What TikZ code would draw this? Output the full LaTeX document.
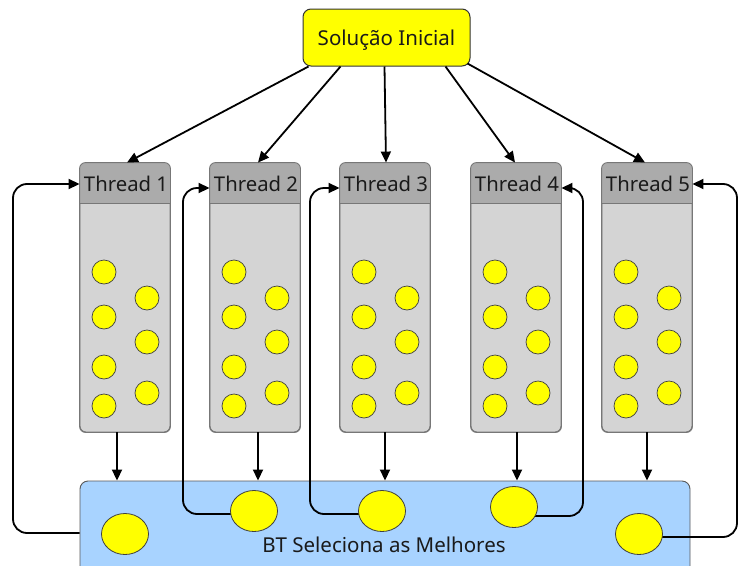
\documentclass[tikz,border=0pt]{standalone}
\usepackage{fontspec}
\setmainfont{Noto Sans}
\usetikzlibrary{arrows.meta,calc,shapes.geometric}
\definecolor{thbody}{HTML}{D4D4D4}
\definecolor{thhead}{HTML}{ABABAB}
\definecolor{thline}{HTML}{777777}
\definecolor{btblue}{HTML}{A8D3FF}
\definecolor{ylw}{HTML}{FFFF00}
\definecolor{txt}{HTML}{1A1A1A}
\tikzset{
  threadbox/.style={draw=thline, line width=0.9pt, fill=thbody, rounded corners=6pt,
    minimum width=90pt, minimum height=269pt, inner sep=0pt},
  headtext/.style={font=\fontsize{20.3}{22}\selectfont, text=txt, inner sep=0pt},
  dot/.style={circle, draw=black!75, line width=0.7pt, fill=ylw, minimum size=24pt, inner sep=0pt},
  ell/.style={ellipse, draw=black!75, line width=0.8pt, fill=ylw, minimum width=47pt, minimum height=41pt, inner sep=0pt},
  conn/.style={line width=1.8pt, -{Triangle[length=11pt,width=10pt]}},
  fb/.style={line width=1.8pt, rounded corners=14pt, -{Triangle[length=11pt,width=10pt]}},
}
\begin{document}
\begin{tikzpicture}[x=1pt,y=-1pt]
\clip (0,0) rectangle (739,565);
\fill[white] (0,0) rectangle (739,565);

% initial solution
\node[draw=black!80, line width=1pt, fill=ylw, rounded corners=8pt, minimum width=167pt,
      minimum height=57pt, inner sep=0pt, text depth=0pt, font=\fontsize{20.5}{22}\selectfont, text=txt]
      (sol) at (386.5,37.5) {Solução Inicial};

% threads
\foreach \i/\L in {1/80,2/210,3/340,4/471,5/602}{
  \node[threadbox] (t\i) at (\L+45,297.5) {};
  \begin{scope}
    \clip[rounded corners=6pt] (t\i.north west) rectangle (t\i.south east);
    \fill[thhead] (t\i.north west) rectangle ($(t\i.north east)+(0,41)$);
  \end{scope}
  \draw[thline, line width=0.9pt] ($(t\i.north west)+(0,41)$) -- ($(t\i.north east)+(0,41)$);
  \draw[thline, line width=0.9pt, rounded corners=6pt] (t\i.north west) rectangle (t\i.south east);
  \node[headtext] (h\i) at (\L+46,184) {Thread \i};
  \node[dot] (d\i a) at (\L+24,272) {};
  \node[dot] (d\i b) at (\L+24,317) {};
  \node[dot] (d\i c) at (\L+24,367) {};
  \node[dot] (d\i d) at (\L+24,406) {};
  \node[dot] (d\i e) at (\L+67,298) {};
  \node[dot] (d\i f) at (\L+67,342) {};
  \node[dot] (d\i g) at (\L+67,393) {};
}

% top arrows
\draw[conn] ($(sol.south)+(-78,0)$) -- ($(t1.north)+(2,0)$);
\draw[conn] ($(sol.south)+(-46,0)$) -- ($(t2.north)+(3,0)$);
\draw[conn] ($(sol.south)+(-2,0)$) -- ($(t3.north)+(1,0)$);
\draw[conn] ($(sol.south)+(59,0)$) -- ($(t4.north)+(-1,0)$);
\draw[conn] ($(sol.south)+(81,-3)$) -- ($(t5.north)+(-2,0)$);

% bottom box
\node[draw=black!65, line width=0.9pt, fill=btblue, rounded corners=8pt, minimum width=610pt,
      minimum height=110pt, inner sep=0pt] (bt) at (385,536) {};

% down arrows
\draw[conn] ($(t1.south)+(-8,0)$) -- ($(t1.south |- bt.north)+(-8,0)$);
\draw[conn] ($(t2.south)+(3,0)$) -- ($(t2.south |- bt.north)+(3,0)$);
\draw[conn] (t3.south) -- (t3.south |- bt.north);
\draw[conn] ($(t4.south)+(1,0)$) -- ($(t4.south |- bt.north)+(1,0)$);
\draw[conn] (t5.south) -- (t5.south |- bt.north);

% ellipses positions
\coordinate (p1) at (125,534);
\coordinate (p2) at (254,511);
\coordinate (p3) at (382,511);
\coordinate (p4) at (514,507);
\coordinate (p5) at (639,534);

% feedback connectors
\coordinate (a1) at (13,184);
\coordinate (a2) at (183,188);
\coordinate (a3) at (310,188);
\coordinate (a4) at (583,188);
\coordinate (a5) at (737,184);
\draw[fb] (bt.west |- 0,533) -- (a1 |- 0,533) -- (a1) -- (a1 -| t1.west);
\draw[fb] ($(p2)+(0,3)$) -- (a2 |- 0,514) -- (a2) -- (a2 -| t2.west);
\draw[fb] ($(p3)+(0,3)$) -- (a3 |- 0,514) -- (a3) -- (a3 -| t3.west);
\draw[fb] ($(p4)+(0,9)$) -- (a4 |- 0,516) -- (a4) -- (a4 -| t4.east);
\draw[fb] ($(p5)+(0,3)$) -- (a5 |- 0,537) -- (a5) -- (a5 -| t5.east);

\foreach \k in {1,...,5}{ \node[ell] (e\k) at (p\k) {}; }

\node[font=\fontsize{20.5}{22}\selectfont, text=txt, inner sep=0pt] (btl) at (384,545) {BT Seleciona as Melhores};
\end{tikzpicture}
\end{document}
